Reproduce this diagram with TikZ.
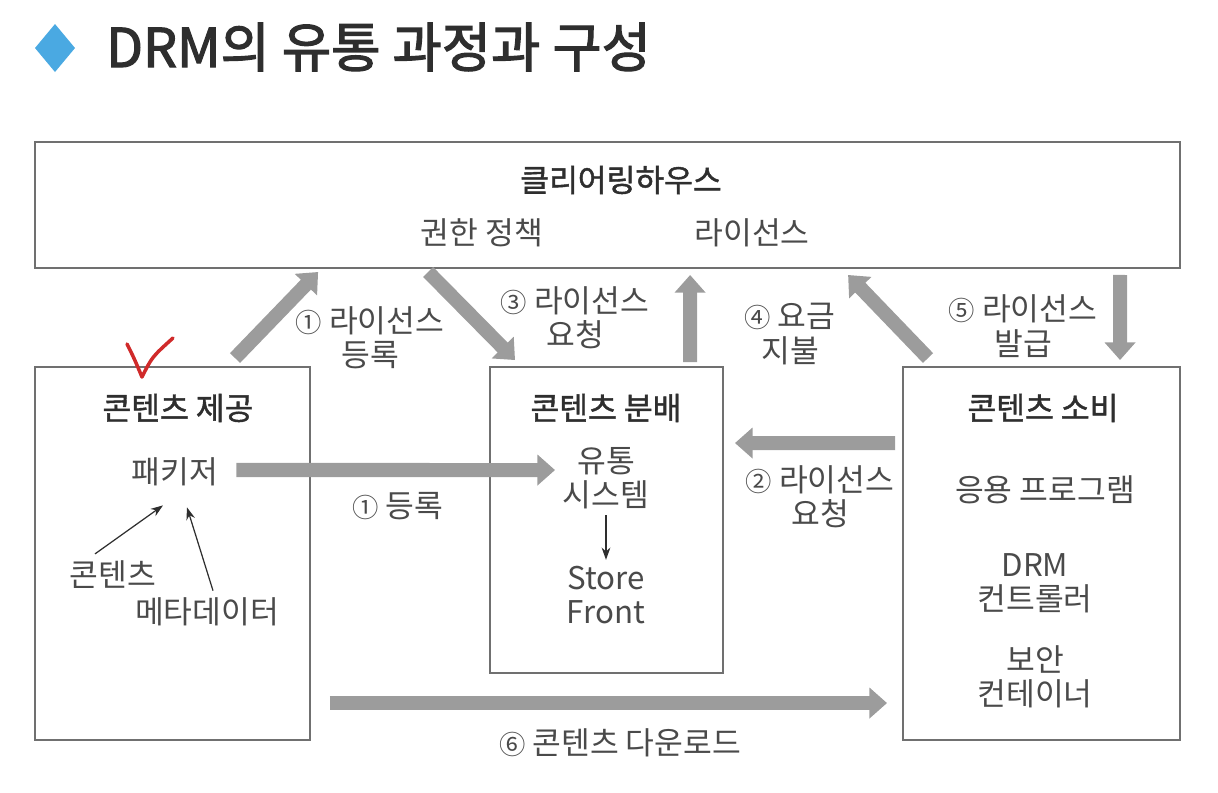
\documentclass[tikz,border=0pt]{standalone}
\usepackage{fontspec}
\setmainfont{Noto Sans CJK KR}
\newfontfamily\headfont[FakeBold=1.4]{Noto Sans CJK KR}
\newfontfamily\titlefont[FakeBold=2.2]{Noto Sans CJK KR}
\usepackage{tikz}
\usetikzlibrary{arrows.meta, positioning, calc}
\usepackage{xcolor}
\definecolor{ink}{HTML}{2E2E2E}
\definecolor{softink}{HTML}{4A4A4A}
\definecolor{framegray}{HTML}{707070}
\definecolor{flowgray}{HTML}{9C9C9C}
\definecolor{skyblue}{HTML}{4AA9E2}
\definecolor{checkred}{HTML}{D02A2A}

\tikzset{
  stage/.style={draw=framegray, line width=0.8pt, inner sep=0pt, outer sep=0pt},
  head/.style={text=ink, font=\fontsize{17.8}{19.5}\selectfont\headfont},
  body/.style={text=softink, font=\fontsize{17.8}{19.5}\selectfont, align=center},
  flow/.style={draw=flowgray, line width=8pt, -{Triangle[width=17pt,length=10pt]}},
  pointer/.style={draw=ink, line width=0.7pt, -{Stealth[length=7pt,width=5pt]}}
}
\newcommand{\stepno}[1]{{\fontsize{15}{19.5}\selectfont #1}}

\begin{document}
\begin{tikzpicture}[x=0.02cm, y=-0.02cm]
        \useasboundingbox (0,0) rectangle (1218,792);

        % Title
        \fill[skyblue] (55,24) -- (75,48) -- (55,72) -- (35,48) -- cycle;
        \node[anchor=west, text=ink, font=\fontsize{30.5}{36}\selectfont\titlefont] (title) at (100,47) {DRM의 유통 과정과 구성};

        % Clearing house
        \node[stage, minimum width=22.9cm, minimum height=2.52cm] (house) at (607.5,205) {};
        \node[head] (househead) at (621,180) {클리어링하우스};
        \node[body] (policy) at (482,233) {권한 정책};
        \node[body] (license) at (752,233) {라이선스};

        % Content provider
        \node[stage, minimum width=5.5cm, minimum height=7.46cm] (prov) at (172.5,553.5) {};
        \node[head] (provhead) at (178,408) {콘텐츠 제공};
        \node[body] (packer) at (175,472) {패키저};
        \node[body] (content) at (113,575) {콘텐츠};
        \node[body] (meta) at (207,612) {메타데이터};
        \draw[pointer] ($(content.north)+(-18,-1)$) -- ($(packer.south)+(-12,13)$);
        \draw[pointer] ($(meta.north)+(6,-1)$) -- ($(packer.south)+(12,15)$);

        % Content distribution
        \node[stage, minimum width=4.66cm, minimum height=6.12cm] (dist) at (606.5,520) {};
        \node[head] (disthead) at (606,408) {콘텐츠 분배};
        \node[body] (system) at (606,478) {유통\\시스템};
        \node[body] (store) at (606,595) {Store\\Front};
        \draw[pointer] (system.south) -- (store.north);

        % Content consumer
        \node[stage, minimum width=5.54cm, minimum height=7.46cm] (cons) at (1041.5,553.5) {};
        \node[head] (conshead) at (1043,408) {콘텐츠 소비};
        \node[body] (app) at (1045,490) {응용 프로그램};
        \node[body] (ctrl) at (1035,583) {DRM\\컨트롤러};
        \node[body] (vault) at (1035,677) {보안\\컨테이너};

        % Hand-drawn check
        \draw[checkred, line width=2pt, line cap=round, line join=round] (127,344) .. controls (134,358) .. (142,377) .. controls (152,357) .. (173,338);

        % Flows
        \draw[flow] ($(prov.north west)+(200,-9)$) -- ($(house.south west)+(283,4)$);
        \draw[flow] ($(house.south west)+(393,4)$) -- ($(dist.north west)+(25,-7)$);
        \draw[flow] ($(dist.north west)+(200,-5)$) -- ($(house.south west)+(655,7)$);
        \draw[flow] ($(cons.north west)+(25,-9)$) -- ($(house.south west)+(813,7)$);
        \draw[flow] ($(house.south west)+(1085,7)$) -- ($(cons.north west)+(217,-7)$);
        \draw[flow] ($(packer.east)+(12,-2)$) -- ($(dist.north west)+(65,103)$);
        \draw[flow] ($(cons.north west)+(-8,76)$) -- ($(dist.north east)+(12,76)$);
        \draw[flow] ($(prov.north east)+(20,336)$) -- ($(cons.north west)+(-16,336)$);

        % Flow labels
        \node[body] (lregister) at (370,338) {\stepno{①} 라이선스\\등록};
        \node[body] (lrequest) at (575,318) {\stepno{③} 라이선스\\요청};
        \node[body] (payment) at (790,334) {\stepno{④} 요금\\지불};
        \node[body] (issue) at (1023,326) {\stepno{⑤} 라이선스\\발급};
        \node[body] (register) at (398,506) {\stepno{①} 등록};
        \node[body] (crequest) at (820,497) {\stepno{②} 라이선스\\요청};
        \node[body] (download) at (620,743) {\stepno{⑥} 콘텐츠 다운로드};
    \end{tikzpicture}
\end{document}
